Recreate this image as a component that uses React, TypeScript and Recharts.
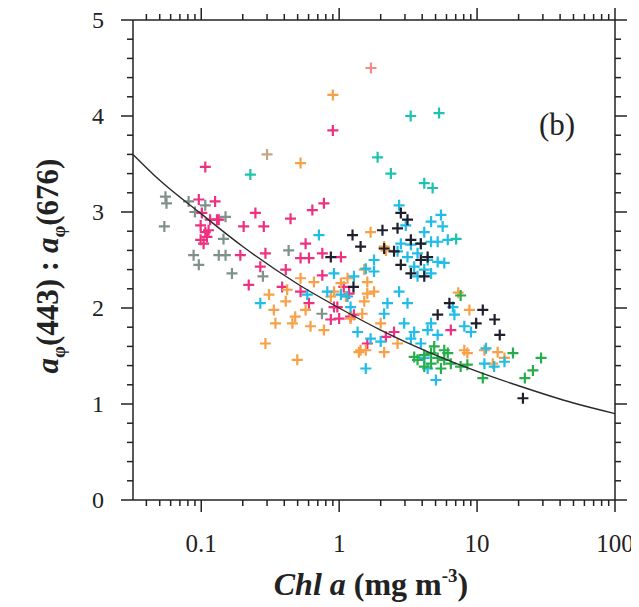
import React from 'react';
import { ScatterChart, Scatter, XAxis, YAxis, Label } from 'recharts';

// ---------- axis ticks ----------
const X_MAJOR = [0.1, 1, 10, 100];
const X_MAJOR_LABELS = ['0.1', '1', '10', '100'];
const X_MINOR = [
  0.04, 0.05, 0.06, 0.07, 0.08, 0.09,
  0.2, 0.3, 0.4, 0.5, 0.6, 0.7, 0.8, 0.9,
  2, 3, 4, 5, 6, 7, 8, 9,
  20, 30, 40, 50, 60, 70, 80, 90,
];
const X_DOMAIN = [0.032, 100];
const Y_MAJOR = [0, 1, 2, 3, 4, 5];
const Y_MAJOR_LABELS = ['0', '1', '2', '3', '4', '5'];
const Y_MINOR = [0.2, 0.4, 0.6, 0.8, 1.2, 1.4, 1.6, 1.8, 2.2, 2.4, 2.6, 2.8, 3.2, 3.4, 3.6, 3.8, 4.2, 4.4, 4.6, 4.8];
const Y_DOMAIN = [0, 5];

// ---------- data (Chl a, ratio) ----------
const grayPts = [
  [0.055, 3.16], [0.056, 3.09], [0.054, 2.85], [0.081, 3.11], [0.107, 3.07], [0.15, 2.95],
  [0.088, 2.55], [0.096, 2.45], [0.134, 2.55], [0.15, 2.55], [0.145, 2.72], [0.167, 2.36],
  [0.43, 2.6], [0.28, 2.33], [0.75, 1.94], [0.09, 3.0],
];
const magentaPts = [
  [0.107, 3.47], [0.096, 3.13], [0.126, 3.11], [0.101, 2.99], [0.116, 2.92], [0.13, 2.92],
  [0.099, 2.86], [0.107, 2.79], [0.113, 2.81], [0.099, 2.71], [0.11, 2.74], [0.104, 2.67],
  [0.134, 2.92], [0.203, 2.85], [0.247, 2.99], [0.284, 2.85], [0.444, 2.93], [0.639, 3.02],
  [0.775, 3.09], [0.571, 2.67], [0.525, 2.52], [0.604, 2.52], [0.192, 2.55], [0.292, 2.57],
  [0.268, 2.43], [0.755, 2.57], [1.03, 2.53], [0.221, 2.24], [0.41, 2.4], [0.386, 2.22],
  [0.525, 2.17], [0.604, 2.05], [0.755, 2.34], [0.917, 2.01], [1.0, 1.89], [1.28, 1.93],
  [1.6, 1.63], [1.08, 2.22], [1.18, 2.15], [0.97, 2.01], [1.21, 1.91], [0.87, 1.88],
  [2.5, 1.75], [2.18, 1.7], [6.45, 1.77], [0.9, 3.85],
];
const orangePts = [
  [0.525, 3.51], [0.9, 4.22], [0.42, 2.19], [0.525, 2.31], [0.656, 2.27], [0.31, 2.14],
  [0.336, 1.98], [0.41, 2.07], [0.48, 1.91], [0.571, 1.98], [0.458, 1.84], [0.345, 1.84],
  [0.62, 1.81], [0.775, 1.77], [0.292, 1.63], [0.497, 1.46], [1.52, 2.4], [1.6, 2.27],
  [1.43, 1.56], [1.69, 2.79], [0.917, 2.17], [1.12, 2.12], [2.12, 2.64], [2.18, 2.6],
  [1.79, 2.17], [1.6, 2.15], [1.52, 2.07], [1.47, 1.94], [1.21, 1.89], [7.3, 2.16],
  [8.8, 1.98], [2.0, 1.84], [1.56, 1.56], [1.39, 1.54], [2.12, 1.54], [2.65, 1.63],
  [8.08, 1.56], [8.5, 1.53], [11.3, 1.56], [14.1, 1.54], [15.8, 1.48], [13.0, 1.42],
  [0.87, 2.12], [1.03, 2.26], [1.15, 2.31],
];
const cyanPts = [
  [0.713, 2.76], [0.917, 2.36], [1.28, 2.33], [1.79, 2.5], [0.268, 2.05], [0.587, 2.14],
  [0.82, 2.17], [1.15, 2.12], [1.21, 2.01], [1.36, 1.75], [1.56, 1.37], [1.69, 1.68],
  [2.72, 3.07], [5.47, 2.97], [4.64, 2.9], [5.63, 2.85], [3.04, 2.86], [4.14, 2.79],
  [2.8, 2.67], [3.31, 2.66], [3.91, 2.67], [4.64, 2.69], [5.18, 2.69], [6.13, 2.71],
  [2.65, 2.59], [3.13, 2.53], [3.7, 2.57], [4.38, 2.5], [5.18, 2.48], [5.78, 2.47],
  [3.5, 2.43], [4.14, 2.4], [4.64, 2.36], [3.7, 2.33], [1.56, 2.41], [1.79, 2.38],
  [2.72, 2.17], [2.24, 2.05], [3.13, 2.05], [1.03, 2.14], [6.67, 2.01], [6.85, 1.93],
  [2.12, 1.94], [2.96, 1.84], [3.5, 1.75], [4.38, 1.77], [4.64, 1.84], [5.18, 1.72],
  [8.08, 1.81], [9.03, 1.75], [2.0, 1.65], [3.31, 1.68], [3.91, 1.63], [4.14, 1.48],
  [5.03, 1.25], [4.38, 1.37], [11.3, 1.42], [13.3, 1.39], [15.8, 1.44], [11.6, 1.58],
];
const tealPts = [
  [0.227, 3.39], [1.9, 3.57], [2.37, 3.4], [4.14, 3.3], [4.76, 3.25], [7.05, 2.72],
  [3.3, 4.0], [5.3, 4.03],
];
const blackPts = [
  [1.25, 2.76], [1.43, 2.64], [0.87, 2.53], [1.27, 2.22], [2.06, 2.81], [2.65, 2.83],
  [2.8, 2.99], [3.13, 2.92], [2.12, 2.62], [2.5, 2.59], [3.31, 2.71], [3.91, 2.67],
  [2.8, 2.45], [3.31, 2.36], [3.91, 2.5], [4.38, 2.53], [4.14, 2.33], [6.3, 2.05],
  [5.18, 1.93], [11.0, 1.98], [13.4, 1.88], [9.85, 1.84], [14.6, 1.72], [21.5, 1.06],
];
const greenPts = [
  [7.6, 2.13], [3.5, 1.49], [4.14, 1.51], [4.64, 1.53], [5.18, 1.48], [5.78, 1.46],
  [6.45, 1.42], [4.64, 1.42], [4.14, 1.39], [5.47, 1.37], [3.7, 1.46], [6.13, 1.53],
  [7.6, 1.39], [8.5, 1.41], [18.2, 1.53], [29.1, 1.48], [25.4, 1.35], [22.2, 1.27],
  [11.0, 1.27], [4.89, 1.6], [5.78, 1.56],
];
const salmonPts = [[1.7, 4.5]];
const tanPts = [[0.3, 3.6]];

// fitted curve
const fitCurve = [
  [0.032, 3.6], [0.05, 3.33], [0.1, 2.98], [0.2, 2.64], [0.5, 2.25], [1, 2.0],
  [2, 1.77], [5, 1.51], [10, 1.34], [20, 1.19], [50, 1.01], [100, 0.9],
];

const SERIES = [
  { name: 'gray', pts: grayPts, color: '#7f918a' },
  { name: 'magenta', pts: magentaPts, color: '#ee3080' },
  { name: 'orange', pts: orangePts, color: '#f8a048' },
  { name: 'cyan', pts: cyanPts, color: '#1fbde8' },
  { name: 'teal', pts: tealPts, color: '#1cc3ae' },
  { name: 'black', pts: blackPts, color: '#1e1e2c' },
  { name: 'green', pts: greenPts, color: '#28ad4c' },
  { name: 'salmon', pts: salmonPts, color: '#f48a82' },
  { name: 'tan', pts: tanPts, color: '#c2a686' },
];

const toObj = (a: number[][]) => a.map(([x, y]) => ({ x, y }));

const FONT = 'Liberation Serif, Times New Roman, serif';
const AX = '#222';

const findIdx = (v: number, arr: number[]) =>
  arr.findIndex((m) => Math.abs(v - m) <= Math.abs(m) * 1e-6 + 1e-9);

const BottomTick = (props: any) => {
  const { x, y, payload } = props;
  const i = findIdx(payload.value, X_MAJOR);
  const major = i >= 0;
  return (
    <g>
      <line x1={x} y1={y} x2={x} y2={y + (major ? 12 : 6)} stroke={AX} strokeWidth={1.5} />
      {major && (
        <text x={x} y={y + 52} textAnchor="middle" fontFamily={FONT} fontSize={25} fill="#222">
          {X_MAJOR_LABELS[i]}
        </text>
      )}
    </g>
  );
};
const TopTick = (props: any) => {
  const { x, y, payload } = props;
  const major = findIdx(payload.value, X_MAJOR) >= 0;
  return <line x1={x} y1={y} x2={x} y2={y - (major ? 12 : 6)} stroke={AX} strokeWidth={1.5} />;
};
const LeftTick = (props: any) => {
  const { x, y, payload } = props;
  const i = findIdx(payload.value, Y_MAJOR);
  const major = i >= 0;
  return (
    <g>
      <line x1={x} y1={y} x2={x - (major ? 12 : 6)} y2={y} stroke={AX} strokeWidth={1.5} />
      {major && (
        <text x={x - 29} y={y + 8} textAnchor="end" fontFamily={FONT} fontSize={24} fill="#222">
          {Y_MAJOR_LABELS[i]}
        </text>
      )}
    </g>
  );
};
const RightTick = (props: any) => {
  const { x, y, payload } = props;
  const major = findIdx(payload.value, Y_MAJOR) >= 0;
  return <line x1={x} y1={y} x2={x + (major ? 12 : 6)} y2={y} stroke={AX} strokeWidth={1.5} />;
};

const makePlus = (color: string) => (props: any) => {
  const { cx, cy } = props;
  if (cx == null || cy == null) return <g />;
  const r = 5.5;
  return (
    <path
      d={`M${cx - r},${cy}H${cx + r}M${cx},${cy - r}V${cy + r}`}
      stroke={color}
      strokeWidth={2.2}
      fill="none"
    />
  );
};

const XTitle = () => (
  <text x={363} y={587} textAnchor="middle" fontFamily={FONT} fontSize={32} fontWeight="bold" fill="#222">
    <tspan fontStyle="italic">Chl a</tspan>
    <tspan> (mg m</tspan>
    <tspan fontSize={19} dy={-13}>-3</tspan>
    <tspan dy={13}>)</tspan>
  </text>
);

const YTitle = () => (
  <text
    x={50}
    y={258}
    transform="rotate(-90 50 258)"
    textAnchor="middle"
    fontFamily={FONT}
    fontSize={31}
    fontWeight="bold"
    fill="#222"
  >
    <tspan fontStyle="italic">a</tspan>
    <tspan fontSize={19} dy={7}>φ</tspan>
    <tspan dy={-7}>(443) : </tspan>
    <tspan fontStyle="italic">a</tspan>
    <tspan fontSize={19} dy={7}>φ</tspan>
    <tspan dy={-7}>(676)</tspan>
  </text>
);

const PanelTag = () => (
  <text x={549} y={127} textAnchor="middle" fontFamily={FONT} fontSize={31} fill="#222">
    (b)
  </text>
);

export default function App() {
  return (
    <div style={{ width: 631, height: 599 }}>
      <ScatterChart width={631} height={599} margin={{ top: 0, right: 0, bottom: 0, left: 0 }}>
        <XAxis
          xAxisId="b"
          dataKey="x"
          type="number"
          scale="log"
          domain={X_DOMAIN}
          allowDataOverflow
          ticks={[...X_MINOR, ...X_MAJOR]}
          interval={0}
          orientation="bottom"
          height={107}
          tickSize={0}
          tickMargin={0}
          tickLine={false}
          tick={<BottomTick />}
          axisLine={{ stroke: AX, strokeWidth: 1.5 }}
        >
          <Label content={<XTitle />} />
        </XAxis>
        <XAxis
          xAxisId="t"
          dataKey="x"
          type="number"
          scale="log"
          domain={X_DOMAIN}
          allowDataOverflow
          ticks={[...X_MINOR, ...X_MAJOR]}
          interval={0}
          orientation="top"
          height={12}
          tickSize={0}
          tickMargin={0}
          tickLine={false}
          tick={<TopTick />}
          axisLine={{ stroke: AX, strokeWidth: 1.5 }}
        >
          <Label content={<PanelTag />} />
        </XAxis>
        <YAxis
          yAxisId="l"
          dataKey="y"
          type="number"
          domain={Y_DOMAIN}
          allowDataOverflow
          ticks={[...Y_MINOR, ...Y_MAJOR]}
          interval={0}
          orientation="left"
          width={125}
          tickSize={0}
          tickMargin={0}
          tickLine={false}
          tick={<LeftTick />}
          axisLine={{ stroke: AX, strokeWidth: 1.5 }}
        >
          <Label content={<YTitle />} />
        </YAxis>
        <YAxis
          yAxisId="r"
          dataKey="y"
          type="number"
          domain={Y_DOMAIN}
          allowDataOverflow
          ticks={[...Y_MINOR, ...Y_MAJOR]}
          interval={0}
          orientation="right"
          width={24}
          tickSize={0}
          tickMargin={0}
          tickLine={false}
          tick={<RightTick />}
          axisLine={{ stroke: AX, strokeWidth: 1.5 }}
        />
        {SERIES.map((s) => (
          <Scatter
            key={s.name}
            name={s.name}
            data={toObj(s.pts)}
            xAxisId="b"
            yAxisId="l"
            shape={makePlus(s.color)}
            isAnimationActive={false}
          />
        ))}
        <Scatter
          name="fit"
          data={toObj(fitCurve)}
          xAxisId="t"
          yAxisId="r"
          line={{ stroke: '#2a2a2a', strokeWidth: 1.4 }}
          lineJointType="monotoneX"
          shape={() => <g />}
          isAnimationActive={false}
        />
      </ScatterChart>
    </div>
  );
}
